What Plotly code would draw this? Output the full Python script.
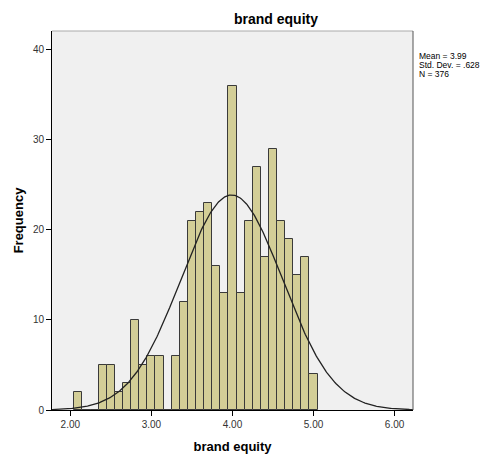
import numpy as np
import plotly.graph_objects as go

# Histogram bins (centres) and frequencies
bin_centers = [2.1, 2.2, 2.3, 2.4, 2.5, 2.6, 2.7, 2.8, 2.9, 3.0, 3.1, 3.2, 3.3, 3.4,
               3.5, 3.6, 3.7, 3.8, 3.9, 4.0, 4.1, 4.2, 4.3, 4.4, 4.5, 4.6, 4.7,
               4.8, 4.9, 5.0]
frequencies = [2, 0, 0, 5, 5, 2, 3, 10, 5, 6, 6, 0, 6, 12,
               21, 22, 23, 16, 13, 36, 13, 21, 27, 17, 29, 21, 19,
               15, 17, 4]
bin_width = 0.1

# Summary statistics shown in the chart
mean_val = 3.99
std_val = 0.628
n_val = 376
stat_lines = ["Mean = 3.99", "Std. Dev. = .628", "N = 376"]

x_tick_vals = [2, 3, 4, 5, 6]
x_tick_text = ["2.00", "3.00", "4.00", "5.00", "6.00"]
y_tick_vals = [0, 10, 20, 30, 40]

x_range = [1.774, 6.227]
y_range = [0, 42.1]

# Normal curve defined by the stated mean / SD / N
xc = np.linspace(x_range[0], x_range[1], 400)
yc = n_val * bin_width / (std_val * np.sqrt(2 * np.pi)) * np.exp(-0.5 * ((xc - mean_val) / std_val) ** 2)

fig = go.Figure()
fig.add_trace(go.Bar(
    x=bin_centers, y=frequencies, width=bin_width,
    marker=dict(color="#D3CE97", line=dict(color="#3a3a3a", width=1)),
    hoverinfo="x+y", showlegend=False,
))
fig.add_trace(go.Scatter(
    x=xc, y=yc, mode="lines", line=dict(color="#222222", width=1.3),
    hoverinfo="skip", showlegend=False,
))

font_family = "Liberation Sans, Arial, sans-serif"
W, H = 490, 454
ml, mr, mt, mb = 52, 77, 31, 44
plot_h = H - mt - mb

def py(pix_y):
    """convert a pixel row of the page to paper y"""
    return (H - mb - pix_y) / plot_h

annotations = []
for i, line in enumerate(stat_lines):
    annotations.append(dict(
        xref="paper", yref="paper", x=1.012, y=py(56 + 9 * i),
        xanchor="left", yanchor="middle", align="left", showarrow=False,
        text=line, font=dict(size=8.5, color="black", family=font_family)))

fig.update_layout(
    width=W, height=H,
    margin=dict(l=ml, r=mr, t=mt, b=mb, autoexpand=False),
    paper_bgcolor="white", plot_bgcolor="#F0F0F0",
    font=dict(family=font_family, size=10, color="#333333"),
    bargap=0,
    xaxis=dict(
        range=x_range, tickvals=x_tick_vals, ticktext=x_tick_text,
        showgrid=False, zeroline=False, showline=True, linecolor="black", linewidth=1,
        ticks="outside", ticklen=5, tickcolor="black",
        tickfont=dict(size=10, color="#333333"),
        title=dict(text="<b>brand equity</b>", font=dict(size=13, color="black"), standoff=16),
    ),
    yaxis=dict(
        range=y_range, tickvals=y_tick_vals,
        showgrid=False, zeroline=False, showline=True, linecolor="black", linewidth=1,
        ticks="outside", ticklen=5, tickcolor="black",
        tickfont=dict(size=10, color="#333333"),
        title=dict(text="<b>Frequency</b>", font=dict(size=13, color="black"), standoff=6),
    ),
    title=dict(text="<b>brand equity</b>", x=276 / W, xanchor="center",
               y=1 - 19 / H, yanchor="middle",
               font=dict(size=14, color="black", family=font_family)),
    shapes=[
        dict(type="line", xref="paper", yref="paper", x0=0, x1=1, y0=1, y1=1,
             line=dict(color="#aaaaaa", width=1)),
        dict(type="line", xref="paper", yref="paper", x0=1, x1=1, y0=0, y1=1,
             line=dict(color="#555555", width=1)),
    ],
    annotations=annotations,
)

fig.write_html("out.html", config={"displayModeBar": False},
               post_script="document.body.style.margin='0';")
